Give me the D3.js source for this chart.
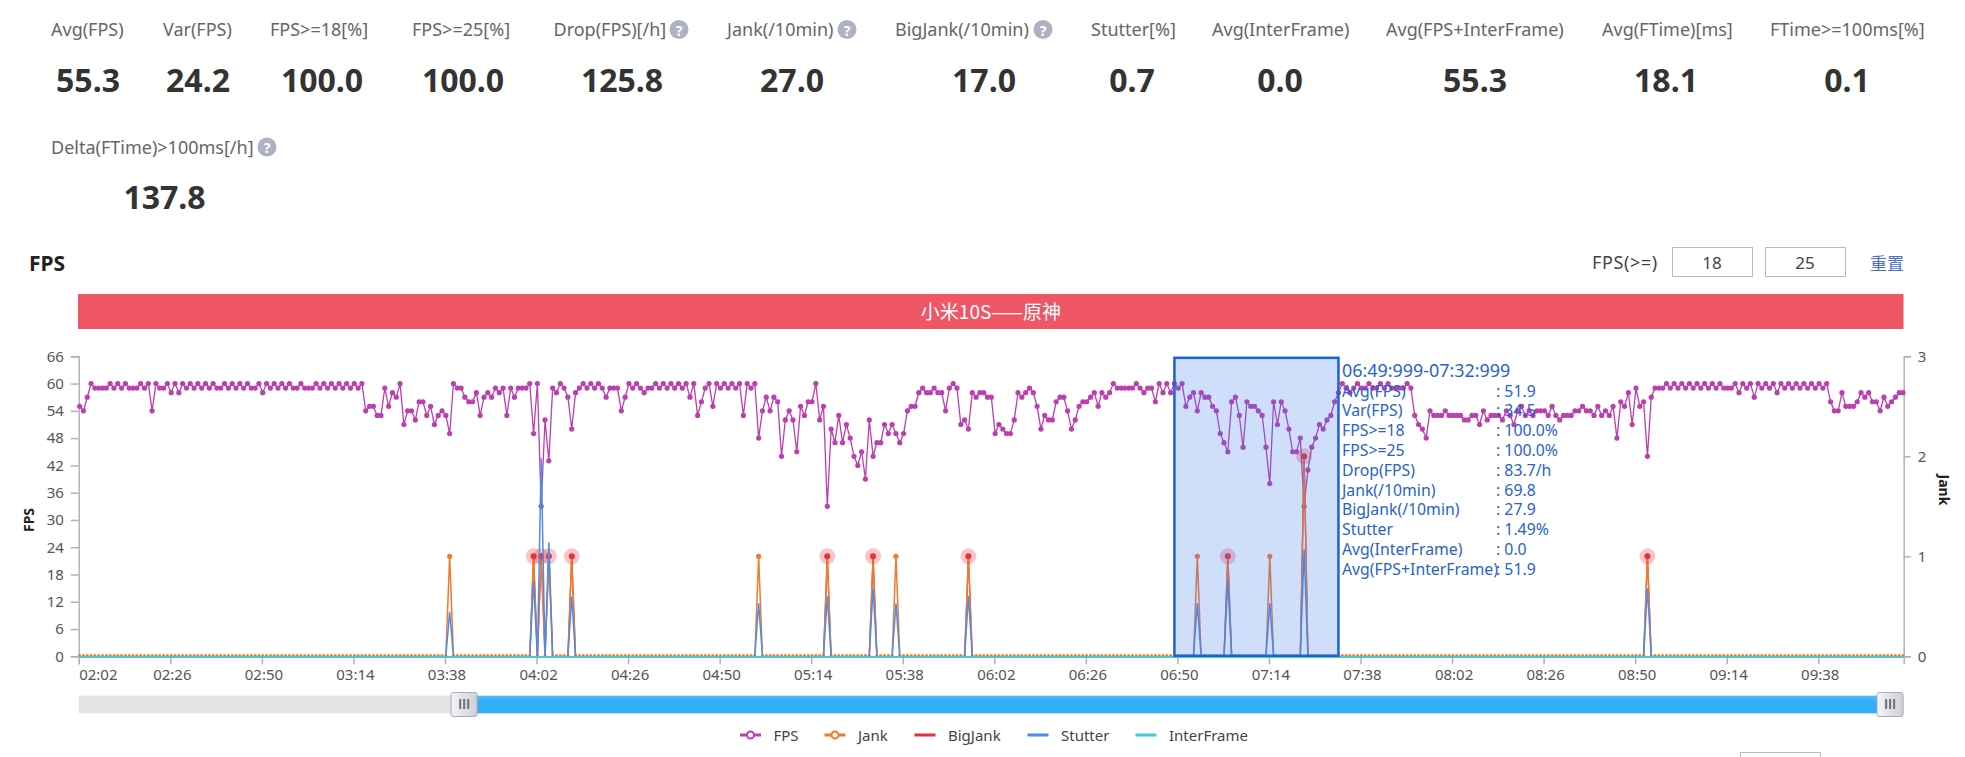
<!DOCTYPE html>
<html>
<head>
<meta charset="utf-8">
<title>FPS</title>
<script src="https://cdn.jsdelivr.net/npm/d3@7"></script>
<style>
  html, body { margin: 0; padding: 0; background: #fff; overflow: hidden; }
  svg { display: block; }
  text { font-family: "Noto Sans", "Open Sans", "Noto Sans CJK SC", sans-serif; }
</style>
</head>
<body>
<div id="page"></div>
<script>
// values, one per second starting at 02:02
var fpsValues = [
  55,54,57,60,59,59,59,59,60,59, 60,59,60,59,59,59,60,59,60,54,
  60,59,59,60,58,60,58,60,59,60, 59,60,59,60,59,60,59,59,60,59,
  60,59,60,59,60,59,59,60,58,60, 59,60,59,60,59,60,59,59,60,59,
  59,59,60,59,60,59,60,59,60,59, 60,59,60,59,60,54,55,55,53,53,
  59,55,58,57,60,51,54,54,52,56, 56,53,55,51,53,54,53,49,60,59,
  59,57,56,56,58,53,57,58,57,59, 58,59,53,59,57,59,59,59,60,49,
  60,33,52,43,59,58,60,59,57,50, 58,59,60,59,60,59,60,59,57,59,
  59,59,54,57,60,59,60,59,58,59, 59,60,59,60,59,60,59,60,59,60,
  57,60,53,56,59,60,55,60,59,60, 59,60,59,60,53,60,59,60,48,54,
  57,54,57,56,44,52,54,52,45,55, 53,56,56,60,52,55,33,50,47,53,
  47,51,48,44,42,45,39,52,44,47, 47,51,49,51,49,47,49,54,55,55,
  58,59,58,58,59,58,58,54,59,60, 59,51,52,50,58,57,58,58,57,57,
  49,51,50,49,49,52,58,57,58,59, 58,55,50,53,52,52,56,57,57,54,
  50,52,55,56,56,57,58,55,58,57, 58,60,59,59,59,59,59,60,59,58,
  59,59,56,60,58,60,58,60,59,60, 55,57,58,54,58,57,57,55,54,49,
  47,45,56,57,53,46,56,55,55,54, 53,46,38,56,51,56,54,50,45,45,
  48,33,41,46,48,51,50,52,53,56, 58,60,59,58,59,60,59,59,60,59,
  59,60,59,60,59,59,59,59,60,59, 53,51,50,48,54,53,53,53,54,53,
  53,53,53,52,52,53,53,51,54,52, 53,53,53,52,54,53,51,54,55,53,
  54,53,54,54,54,53,55,53,52,53, 53,53,54,54,55,54,54,53,55,53,
  54,53,55,48,56,55,58,51,59,55, 56,44,57,59,59,59,60,59,60,59,
  60,59,60,59,60,59,60,59,60,59, 60,59,59,59,60,58,60,59,60,57,
  60,59,60,59,60,58,60,59,60,59, 60,59,60,59,60,59,60,59,60,56,
  54,54,58,55,55,55,56,58,57,58, 56,56,54,57,55,56,57,58,58
];
var jankSeconds = [97,119,121,123,129,178,196,208,214,233,293,301,312,321,411];
var jankCounts = [1,1,1,1,1,1,1,1,1,1,1,1,1,2,1];
var bigJankSeconds = [119,121,123,129,196,208,233,301,321,411];
var bigJankCounts = [1,1,1,1,1,1,1,1,2,1];
var stutterValues = [0.445,0.755,1.98,1.14,0.595,0.53,0.6,0.68,0.53,0.6,0.53,0.755,0.53,1.07,0.68];

var xTickLabels = ['02:02','02:26','02:50','03:14','03:38','04:02','04:26','04:50','05:14','05:38',
  '06:02','06:26','06:50','07:14','07:38','08:02','08:26','08:50','09:14','09:38'];
var fpsTicks = [0,6,12,18,24,30,36,42,48,54,60,66];
var jankTicks = [0,1,2,3];

var statTitles = ['Avg(FPS)','Var(FPS)','FPS>=18[%]','FPS>=25[%]','Drop(FPS)[/h]','Jank(/10min)','BigJank(/10min)',
  'Stutter[%]','Avg(InterFrame)','Avg(FPS+InterFrame)','Avg(FTime)[ms]','FTime>=100ms[%]','Delta(FTime)>100ms[/h]'];
var statValues = ['55.3','24.2','100.0','100.0','125.8','27.0','17.0','0.7','0.0','55.3','18.1','0.1','137.8'];
var statCenters = [88,198,322,463,622,792,984,1132,1280,1475,1666,1847,164.5];
var statTitleX = [51,163,270,412,553.5,727,895,1091,1212,1386,1602,1770,51];
var statHelpX = [0,0,0,0,679,847,1043,0,0,0,0,0,267];

var tooltipTitle = '06:49:999-07:32:999';
var tooltipLabels = ['Avg(FPS)','Var(FPS)','FPS>=18','FPS>=25','Drop(FPS)','Jank(/10min)','BigJank(/10min)','Stutter','Avg(InterFrame)','Avg(FPS+InterFrame)'];
var tooltipValues = ['51.9','34.5','100.0%','100.0%','83.7/h','69.8','27.9','1.49%','0.0','51.9'];
var selectStart = 287;
var selectEnd = 330;
var sliderStart = 101;

var legendNames = ['FPS','Jank','BigJank','Stutter','InterFrame'];
var legendX = [750.5,835,925,1038,1146];
var legendHollow = [true,true,false,false,false];

var colors = {
  fps: '#bb3fae',
  jank: '#f17a2c',
  bigJank: '#e5323a',
  stutter: '#4d8ce8',
  inter: '#3fccd8',
  axis: '#aeb2ba',
  label: '#555'
};

var width = 1965, height = 757;
var plotLeft = 78.8, plotRight = 1903.7, plotTop = 356.3, plotBottom = 656.3;
var pointOffset = 0.22;

var svg = d3.select('#page').append('svg')
  .attr('width', width)
  .attr('height', height);

var x = d3.scaleLinear().domain([0, 478.4]).range([plotLeft, plotRight]);
var yFps = d3.scaleLinear().domain([0, 66]).range([plotBottom, plotTop]);
var yJank = d3.scaleLinear().domain([0, 3]).range([plotBottom, plotTop]);

var secondOf = function(label) {
  var p = label.split(':');
  return +p[0] * 60 + +p[1] - 122;
};
var px = function(i) { return x(i + pointOffset); };

// spikes go back to zero on both sides
var seriesFrom = function(seconds, values) {
  return fpsValues.map(function(d, i) {
    var k = seconds.indexOf(i);
    return k < 0 ? 0 : values[k];
  });
};
var jankSeries = seriesFrom(jankSeconds, jankCounts);
var bigJankSeries = seriesFrom(bigJankSeconds, bigJankCounts);
var stutterSeries = seriesFrom(jankSeconds, stutterValues);
var interSeries = fpsValues.map(function() { return 0; });

// stat header
statTitles.forEach(function(t, i) {
  var row = i < 12 ? 0 : 1;
  svg.append('text')
    .attr('x', statTitleX[i])
    .attr('y', 29 + row * 117.5)
    .attr('dominant-baseline', 'central')
    .attr('font-size', 18)
    .attr('fill', '#666')
    .text(t);
  svg.append('text')
    .attr('x', statCenters[i])
    .attr('y', 79 + row * 117.5)
    .attr('text-anchor', 'middle')
    .attr('dominant-baseline', 'central')
    .attr('font-size', 32)
    .attr('font-weight', 700)
    .attr('fill', '#333')
    .text(statValues[i]);
  if (statHelpX[i]) {
    svg.append('circle')
      .attr('cx', statHelpX[i])
      .attr('cy', 29.5 + row * 117.5)
      .attr('r', 9.5)
      .attr('fill', '#aeb1c2');
    svg.append('text')
      .attr('x', statHelpX[i])
      .attr('y', 30 + row * 117.5)
      .attr('text-anchor', 'middle')
      .attr('dominant-baseline', 'central')
      .attr('font-size', 14)
      .attr('font-weight', 700)
      .attr('fill', '#fff')
      .text('?');
  }
});

// heading row
svg.append('text').attr('x', 29).attr('y', 263)
  .attr('dominant-baseline', 'central')
  .attr('font-size', 21).attr('font-weight', 700).attr('fill', '#222')
  .text('FPS');
svg.append('text').attr('x', 1592).attr('y', 262)
  .attr('dominant-baseline', 'central')
  .attr('font-size', 18).attr('letter-spacing', 0.6).attr('fill', '#444')
  .text('FPS(>=)');
[[1672, '18'], [1765, '25']].forEach(function(b) {
  svg.append('rect').attr('x', b[0] + 0.5).attr('y', 247.5).attr('width', 80).attr('height', 29)
    .attr('fill', '#fff').attr('stroke', '#bbb');
  svg.append('text').attr('x', b[0] + 40).attr('y', 262)
    .attr('text-anchor', 'middle').attr('dominant-baseline', 'central')
    .attr('font-size', 17).attr('fill', '#444').text(b[1]);
});
svg.append('text').attr('x', 1870).attr('y', 262)
  .attr('dominant-baseline', 'central')
  .attr('font-size', 17).attr('fill', '#4a70d0')
  .style('font-family', '"Noto Sans CJK SC"')
  .text('重置');

svg.append('rect').attr('x', 78).attr('y', 294).attr('width', 1825.5).attr('height', 35).attr('fill', '#ef5766');
svg.append('text').attr('x', 991).attr('y', 310)
  .attr('text-anchor', 'middle').attr('dominant-baseline', 'central')
  .attr('font-size', 19).attr('fill', '#fff')
  .style('font-family', '"Noto Sans CJK SC"')
  .text('小米10S——原神');

// axes
var styleAxis = function(g) {
  g.selectAll('path.domain').attr('stroke', colors.axis).attr('stroke-width', 1.5);
  g.selectAll('.tick line').attr('stroke', colors.axis).attr('stroke-width', 1.5);
  g.selectAll('.tick text').attr('fill', colors.label).attr('font-size', 15)
    .style('font-family', '"Noto Sans", sans-serif');
};

var leftAxis = svg.append('g')
  .attr('transform', 'translate(' + plotLeft + ',0)')
  .call(d3.axisLeft(yFps).tickValues(fpsTicks).tickSize(8).tickPadding(7));
styleAxis(leftAxis);

var rightAxis = svg.append('g')
  .attr('transform', 'translate(' + plotRight + ',0)')
  .call(d3.axisRight(yJank).tickValues(jankTicks).tickFormat(d3.format('d')).tickSize(7).tickPadding(7));
styleAxis(rightAxis);

var bottomAxis = svg.append('g')
  .attr('transform', 'translate(0,' + plotBottom + ')')
  .call(d3.axisBottom(x)
    .tickValues(xTickLabels.map(secondOf))
    .tickFormat(function(d) { return xTickLabels[d / 24]; })
    .tickSize(8).tickPadding(5));
styleAxis(bottomAxis);
bottomAxis.selectAll('.tick text').attr('dx', function(d) { return d === 0 ? 19 : 1.5; });

svg.append('text')
  .attr('transform', 'translate(28,520) rotate(-90)')
  .attr('text-anchor', 'middle').attr('dominant-baseline', 'central')
  .attr('font-size', 14).attr('font-weight', 700).attr('fill', '#222')
  .text('FPS');
svg.append('text')
  .attr('transform', 'translate(1944,490) rotate(90)')
  .attr('text-anchor', 'middle').attr('dominant-baseline', 'central')
  .attr('font-size', 14).attr('font-weight', 700).attr('fill', '#222')
  .text('Jank');

// series, same order as the legend. the zero stretch of the spike series
// stays hidden, only its dots show along the bottom
var spikeLine = function(yScale) {
  return d3.line()
    .defined(function(d, i, a) { return d > 0 || a[i - 1] > 0 || a[i + 1] > 0; })
    .x(function(d, i) { return px(i); })
    .y(function(d) { return yScale(d); });
};
var drawSpikes = function(data, color, w) {
  svg.append('path')
    .datum(data)
    .attr('d', spikeLine(yJank))
    .attr('fill', 'none')
    .attr('stroke', color)
    .attr('stroke-width', w);
};

svg.append('path')
  .datum(fpsValues)
  .attr('d', d3.line()
    .x(function(d, i) { return px(i); })
    .y(function(d) { return yFps(d); }))
  .attr('fill', 'none')
  .attr('stroke', colors.fps)
  .attr('stroke-width', 1.3);
svg.append('g').selectAll('circle').data(fpsValues).enter().append('circle')
  .attr('cx', function(d, i) { return px(i); })
  .attr('cy', function(d) { return yFps(d); })
  .attr('r', 2.6)
  .attr('fill', colors.fps);

drawSpikes(bigJankSeries, colors.bigJank, 1.3);
drawSpikes(jankSeries, colors.jank, 1.5);
svg.append('g').selectAll('circle').data(jankSeries).enter().append('circle')
  .attr('cx', function(d, i) { return px(i); })
  .attr('cy', function(d) { return yJank(d) - (d > 0 ? 0 : 0.8); })
  .attr('r', function(d) { return d > 0 ? 2.6 : 1.5; })
  .attr('fill', colors.jank);

bigJankSeconds.forEach(function(s, i) {
  svg.append('circle').attr('cx', px(s)).attr('cy', yJank(bigJankCounts[i])).attr('r', 8)
    .attr('fill', colors.bigJank).attr('fill-opacity', 0.28);
  svg.append('circle').attr('cx', px(s)).attr('cy', yJank(bigJankCounts[i])).attr('r', 3)
    .attr('fill', colors.bigJank);
});

drawSpikes(stutterSeries, colors.stutter, 1.5);
svg.append('path')
  .datum(interSeries)
  .attr('d', d3.line()
    .x(function(d, i) { return px(i); })
    .y(function(d) { return yJank(d) + 0.8; }))
  .attr('fill', 'none')
  .attr('stroke', colors.inter)
  .attr('stroke-width', 1.6);

// selected window
svg.append('rect')
  .attr('x', px(selectStart))
  .attr('y', yFps(66) + 1.5)
  .attr('width', px(selectEnd) - px(selectStart))
  .attr('height', plotBottom - yFps(66) - 2)
  .attr('fill', 'rgba(63,123,239,0.25)')
  .attr('stroke', '#1b63d6')
  .attr('stroke-width', 2.5);

svg.append('text')
  .attr('x', 1342).attr('y', 370)
  .attr('dominant-baseline', 'central')
  .attr('font-size', 17.9).attr('fill', '#2a62c9')
  .text(tooltipTitle);
tooltipLabels.forEach(function(t, i) {
  var rowY = 390.5 + i * 19.8;
  svg.append('text').attr('x', 1342).attr('y', rowY)
    .attr('dominant-baseline', 'central')
    .attr('font-size', 15.8).attr('fill', '#2a62c9').text(t);
  svg.append('text').attr('x', 1496).attr('y', rowY)
    .attr('dominant-baseline', 'central')
    .attr('font-size', 15.8).attr('fill', '#2a62c9').text(': ' + tooltipValues[i]);
});

// zoom slider
var sliderGrad = svg.append('defs').append('linearGradient')
  .attr('id', 'sliderBlue').attr('x1', 0).attr('x2', 0).attr('y1', 0).attr('y2', 1);
sliderGrad.append('stop').attr('offset', '0%').attr('stop-color', '#57bcf6');
sliderGrad.append('stop').attr('offset', '30%').attr('stop-color', '#33aef7');
sliderGrad.append('stop').attr('offset', '100%').attr('stop-color', '#33aef7');
var handleGrad = svg.select('defs').append('linearGradient')
  .attr('id', 'handleGrey').attr('x1', 0).attr('x2', 1).attr('y1', 0).attr('y2', 0);
handleGrad.append('stop').attr('offset', '0%').attr('stop-color', '#f4f4f6');
handleGrad.append('stop').attr('offset', '100%').attr('stop-color', '#cfcfd8');

var sliderHandle = function(cx) {
  svg.append('rect').attr('x', cx - 13).attr('y', 692.5).attr('width', 26).attr('height', 24).attr('rx', 2)
    .attr('fill', 'url(#handleGrey)').attr('stroke', '#a9adb6');
  [-4, 0, 4].forEach(function(o) {
    svg.append('rect').attr('x', cx + o - 1).attr('y', 699).attr('width', 2.2).attr('height', 10).attr('fill', '#7a7a84');
  });
};
svg.append('rect').attr('x', plotLeft).attr('y', 695.7).attr('width', plotRight - plotLeft).attr('height', 17.6).attr('fill', '#e1e3e5');
svg.append('rect').attr('x', x(sliderStart)).attr('y', 695.7).attr('width', 1890 - x(sliderStart)).attr('height', 17.6).attr('fill', 'url(#sliderBlue)');
sliderHandle(x(sliderStart));
sliderHandle(1890);

// legend
legendNames.forEach(function(name, i) {
  var c = [colors.fps, colors.jank, colors.bigJank, colors.stutter, colors.inter][i];
  svg.append('rect').attr('x', legendX[i] - 10.5).attr('y', 733.5).attr('width', 21).attr('height', 3).attr('fill', c);
  if (legendHollow[i]) {
    svg.append('circle').attr('cx', legendX[i]).attr('cy', 735).attr('r', 3.5)
      .attr('fill', '#fff').attr('stroke', c).attr('stroke-width', 2);
  }
  svg.append('text').attr('x', legendX[i] + 23).attr('y', 735)
    .attr('dominant-baseline', 'central')
    .attr('font-size', 15).attr('fill', '#444')
    .text(name);
});

// top of the next box, cut off by the window
svg.append('rect').attr('x', 1740.5).attr('y', 752.5).attr('width', 80).attr('height', 20)
  .attr('fill', '#fff').attr('stroke', '#bbb');
</script>
</body>
</html>
